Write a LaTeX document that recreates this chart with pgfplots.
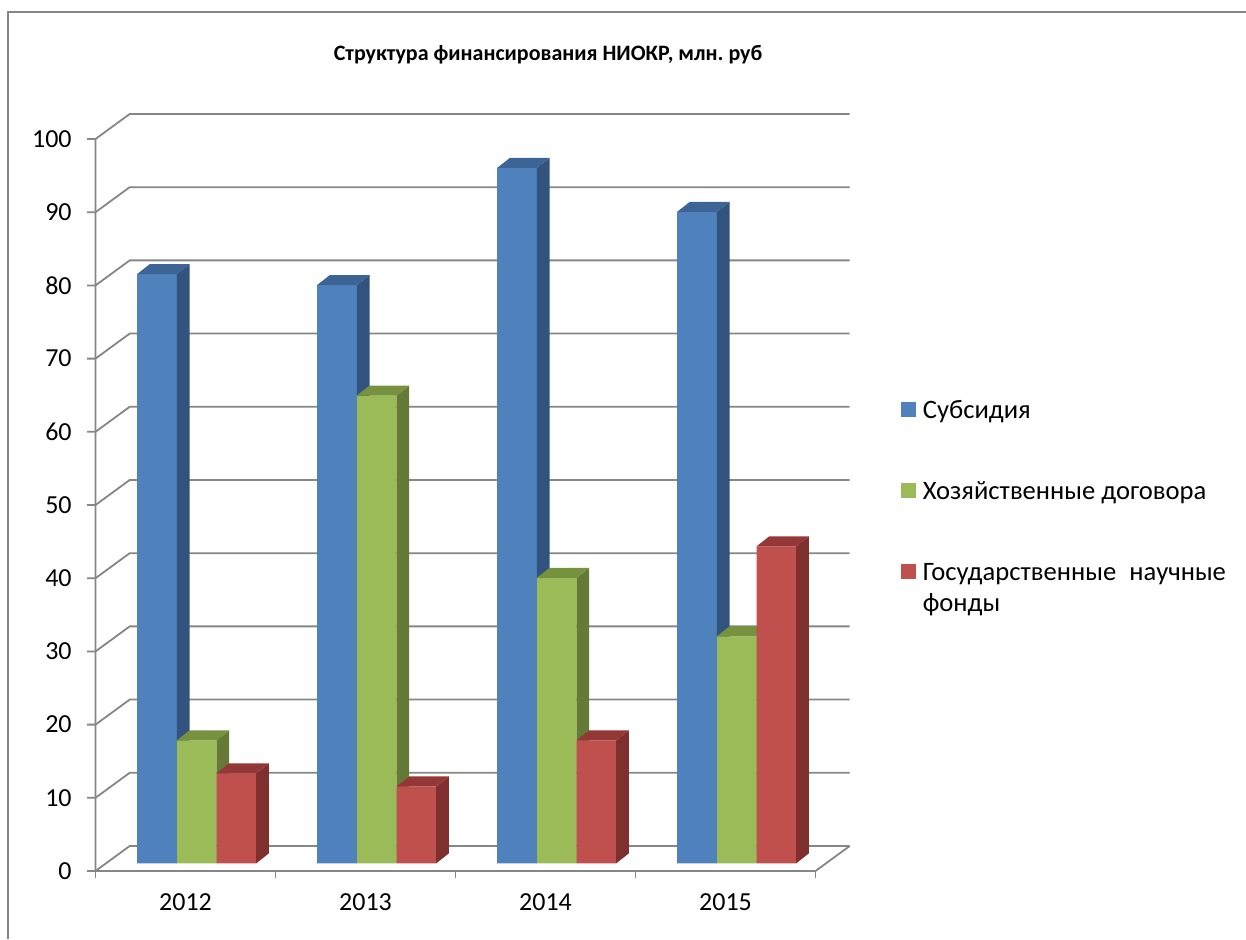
\documentclass[border=0pt]{standalone}
\usepackage{fontspec}
\setmainfont{Carlito}
\usepackage{pgfplots}
\usepackage{pgfplotstable}
\pgfplotsset{compat=1.18}
\frenchspacing

\definecolor{sfront}{RGB}{79,129,189}
\definecolor{sside}{RGB}{50,83,125}
\definecolor{stop}{RGB}{60,100,148}
\definecolor{hfront}{RGB}{155,187,89}
\definecolor{hside}{RGB}{102,122,56}
\definecolor{htop}{RGB}{118,146,62}
\definecolor{gfront}{RGB}{192,80,77}
\definecolor{gside}{RGB}{127,47,46}
\definecolor{gtop}{RGB}{147,56,54}
\definecolor{wall}{RGB}{134,134,134}

\pgfplotstableread{
x sub hoz gos
0 80.5 16.8 12.3
1 79.0 63.9 10.5
2 95.0 39.0 16.8
3 89.0 31.0 43.3
}\datatable

\newcommand\bw{0.2205}
\newcommand\ddx{0.0706}
\newcommand\ddy{1.366}
\newcommand\bb{1.05}

% draw side and top faces of one series
\newcommand\drawfaces[4]{%
 \pgfplotsforeachungrouped \i in {0,1,2,3}{%
  \pgfplotstablegetelem{\i}{#1}\of\datatable
  \pgfmathsetmacro\v{\pgfplotsretval+\bb}%
  \pgfmathsetmacro\vt{\v+\ddy}%
  \pgfmathsetmacro\xl{\i+#2-\bw/2}%
  \pgfmathsetmacro\xr{\i+#2+\bw/2}%
  \pgfmathsetmacro\xrr{\xr+\ddx}%
  \pgfmathsetmacro\xll{\xl+\ddx}%
  \pgfmathsetmacro\bt{\bb+\ddy}%
  \edef\tmp{\noexpand\addplot[forget plot, fill=#3, draw=none] coordinates {(\xr,\bb) (\xr,\v) (\xrr,\vt) (\xrr,\bt)};
   \noexpand\addplot[forget plot, fill=#4, draw=none] coordinates {(\xl,\v) (\xr,\v) (\xrr,\vt) (\xll,\vt)};}%
  \tmp
 }%
}

\begin{document}
\begin{tikzpicture}
\path[use as bounding box] (0pt,0pt) rectangle (623pt,-469.5pt);
\draw[wall, line width=0.7pt] (4pt,-469.5pt) -- (4pt,-6pt) -- (623pt,-6pt);
\node[anchor=base, font=\bfseries\fontsize{11}{14}\selectfont] at (274pt,-30pt) {Структура финансирования НИОКР, млн. руб};

\begin{axis}[
  at={(47.75pt,-435.5pt)}, anchor=south west,
  x=90pt, y=3.66pt,
  xmin=-0.5, xmax=3.5, ymin=0, ymax=100,
  clip=false,
  axis line style={draw=none},
  major tick length=0pt,
  xtick={0,1,2,3}, xticklabels={2012,2013,2014,2015},
  ytick={0,10,...,100},
  tick label style={font=\fontsize{13}{15}\selectfont},
  /pgf/number format/assume math mode=true,
  yticklabel style={xshift=-8.4pt},
  xticklabel style={yshift=-7.7pt},
  legend style={at={(1.118,0.644)}, anchor=north west, draw=none, fill=none,
    font=\fontsize{13.3}{15.65}\selectfont,
    row sep={40.5pt,between origins}, column sep=3.5pt,
    inner sep=0pt, nodes={inner sep=0pt}, cells={anchor=base west}},
]
% walls
\pgfplotsforeachungrouped \k in {0,10,...,100}{%
  \pgfmathsetmacro\kk{\k+3.42}%
  \edef\tmp{\noexpand\draw[wall, line width=0.9pt] (axis cs:-0.547,\k) -- (axis cs:-0.5,\k) -- (axis cs:-0.31,\kk) -- (axis cs:3.69,\kk);}%
  \tmp
}
\draw[wall, line width=0.9pt] (axis cs:-0.5,100) -- (axis cs:-0.5,0) -- (axis cs:3.5,0) -- (axis cs:3.69,3.42);
\pgfplotsforeachungrouped \j in {-0.5,0.5,1.5,2.5,3.5}{%
  \edef\tmp{\noexpand\draw[wall, line width=0.9pt] (axis cs:\j,0) -- (axis cs:\j,-0.96);}%
  \tmp
}
% series 1
\addplot[ybar, bar width=0.2205, bar shift=-0.1585, fill=sfront, draw=none, yshift=3.84pt,
  legend image code/.code={\fill[sfront] (0pt,-3.2pt) rectangle (7.5pt,4.1pt);}]
  table[x=x, y=sub]{\datatable};
\addlegendentry{Субсидия}
\drawfaces{sub}{-0.1585}{sside}{stop}
% series 2
\addplot[ybar, bar width=0.2205, bar shift=0.062, fill=hfront, draw=none, yshift=3.84pt,
  legend image code/.code={\fill[hfront] (0pt,-3.2pt) rectangle (7.5pt,4.1pt);}]
  table[x=x, y=hoz]{\datatable};
\addlegendentry{Хозяйственные договора}
\drawfaces{hoz}{0.062}{hside}{htop}
% series 3
\addplot[ybar, bar width=0.2205, bar shift=0.2825, fill=gfront, draw=none, yshift=3.84pt,
  legend image code/.code={\fill[gfront] (0pt,-3.2pt) rectangle (7.5pt,4.1pt);}]
  table[x=x, y=gos]{\datatable};
\addlegendentry{\parbox[t]{151.5pt}{Государственные\hfill научные\\фонды}}
\drawfaces{gos}{0.2825}{gside}{gtop}
\end{axis}
\end{tikzpicture}
\end{document}
